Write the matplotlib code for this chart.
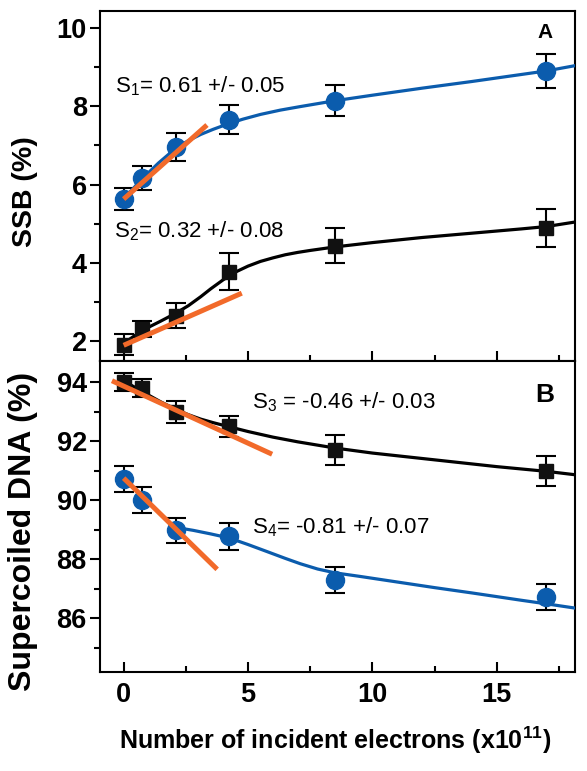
import matplotlib
matplotlib.use("Agg")
import matplotlib.pyplot as plt
from matplotlib.ticker import MultipleLocator

plt.rcParams["font.family"] = ["Liberation Sans", "DejaVu Sans"]
plt.rcParams["mathtext.fontset"] = "custom"
plt.rcParams["mathtext.rm"] = "Liberation Sans"
plt.rcParams["mathtext.it"] = "Liberation Sans:italic"
plt.rcParams["mathtext.bf"] = "Liberation Sans:bold"

BLUE = "#0b5cad"
ORANGE = "#f26a2a"

# incident electrons (x10^11)
electrons = [0.0, 0.75, 2.1, 4.25, 8.5, 17.0]

# panel A: SSB (%)
ssb_circ = [5.64, 6.17, 6.96, 7.65, 8.14, 8.9]
ssb_circ_err = [0.28, 0.31, 0.35, 0.37, 0.40, 0.44]
ssb_sq = [1.92, 2.32, 2.66, 3.78, 4.44, 4.89]
ssb_sq_err = [0.28, 0.21, 0.31, 0.48, 0.44, 0.49]

# panel B: supercoiled DNA (%)
sc_sq = [94.0, 93.8, 92.98, 92.5, 91.7, 90.99]
sc_sq_err = [0.31, 0.31, 0.37, 0.36, 0.52, 0.52]
sc_circ = [90.72, 90.01, 88.98, 88.78, 87.3, 86.73]
sc_circ_err = [0.45, 0.45, 0.43, 0.45, 0.44, 0.44]

# fitted curves
fit_a_circ_x = [0, 0.75, 1.4, 2.1, 2.6, 3.1, 3.6, 4.2, 4.8, 5.5, 6.3, 7.1, 8.5, 10, 12, 14, 16, 17, 18.2]
fit_a_circ_y = [5.64, 6.15, 6.55, 6.93, 7.12, 7.28, 7.41, 7.55, 7.67, 7.79, 7.9, 7.99, 8.14,
                8.28, 8.46, 8.63, 8.81, 8.9, 9.04]
fit_a_sq_x = [0, 0.5, 1.0, 1.5, 2.1, 2.6, 3.1, 3.5, 4.0, 4.5, 5.0, 5.5, 6.0, 6.5, 7.0, 7.5,
              8.5, 10, 12, 14, 16, 17, 18.2]
fit_a_sq_y = [1.95, 2.17, 2.36, 2.52, 2.72, 2.91, 3.14, 3.34, 3.57, 3.77, 3.92, 4.04, 4.13,
              4.21, 4.27, 4.32, 4.41, 4.52, 4.65, 4.76, 4.87, 4.93, 5.05]
fit_b_sq_x = [0, 0.75, 1.5, 2.1, 2.6, 3.1, 3.6, 4.2, 5.0, 6.0, 7.0, 8.5, 10, 12.5, 15, 17, 18.2]
fit_b_sq_y = [94.05, 93.68, 93.33, 93.08, 92.9, 92.75, 92.63, 92.5, 92.33, 92.14, 91.98, 91.77,
              91.6, 91.37, 91.14, 90.98, 90.86]
fit_b_circ_x = [2.1, 2.8, 3.5, 4.25, 5.0, 5.8, 6.5, 7.1, 7.8, 8.5, 9.5, 11, 12.5, 14, 16, 17, 18.2]
fit_b_circ_y = [89.08, 88.98, 88.86, 88.72, 88.5, 88.25, 88.03, 87.85, 87.67, 87.54, 87.42,
                87.23, 87.04, 86.86, 86.61, 86.49, 86.34]

# initial slope lines (orange), endpoints
slope1_x, slope1_y = [0.0, 3.35], [5.63, 7.52]
slope2_x, slope2_y = [0.0, 4.75], [1.9, 3.23]
slope3_x, slope3_y = [-0.47, 5.97], [94.05, 91.56]
slope4_x, slope4_y = [0.0, 3.76], [90.75, 87.66]

slope_labels = ["S$_1$= 0.61 +/- 0.05", "S$_2$= 0.32 +/- 0.08",
                "S$_3$ = -0.46 +/- 0.03", "S$_4$= -0.81 +/- 0.07"]

fig = plt.figure(figsize=(5.87, 7.71), dpi=100)
ax1 = fig.add_axes([0.1704, 0.5318, 0.8092, 0.4540])
ax2 = fig.add_axes([0.1704, 0.1284, 0.8092, 0.4034])


def draw_series(ax, y, err, color, marker, ms):
    ax.errorbar(electrons, y, yerr=err, fmt="none", ecolor="black",
                elinewidth=1.5, capsize=7.5, capthick=1.5, zorder=2)
    ax.plot(electrons, y, linestyle="none", marker=marker, ms=ms,
            color=color, zorder=4)


# panel A
ax1.plot(fit_a_circ_x, fit_a_circ_y, color=BLUE, lw=2.3, zorder=3)
ax1.plot(fit_a_sq_x, fit_a_sq_y, color="black", lw=2.3, zorder=3)
draw_series(ax1, ssb_circ, ssb_circ_err, BLUE, "o", 13)
draw_series(ax1, ssb_sq, ssb_sq_err, "#111111", "s", 10)
ax1.plot(slope1_x, slope1_y, color=ORANGE, lw=3.6, solid_capstyle="butt", zorder=5)
ax1.plot(slope2_x, slope2_y, color=ORANGE, lw=3.6, solid_capstyle="butt", zorder=5)
ax1.text(-0.33, 8.51, slope_labels[0], fontsize=16, va="center")
ax1.text(-0.4, 4.8, slope_labels[1], fontsize=16, va="center")
ax1.text(16.95, 9.87, "A", fontsize=15, fontweight="bold", ha="center", va="center")

# panel B
ax2.plot(fit_b_sq_x, fit_b_sq_y, color="black", lw=2.3, zorder=3)
ax2.plot(fit_b_circ_x, fit_b_circ_y, color=BLUE, lw=2.3, zorder=3)
draw_series(ax2, sc_sq, sc_sq_err, "#111111", "s", 10)
draw_series(ax2, sc_circ, sc_circ_err, BLUE, "o", 13)
ax2.plot(slope3_x, slope3_y, color=ORANGE, lw=3.6, solid_capstyle="butt", zorder=5)
ax2.plot(slope4_x, slope4_y, color=ORANGE, lw=3.6, solid_capstyle="butt", zorder=5)
ax2.text(5.16, 93.34, slope_labels[2], fontsize=16, va="center")
ax2.text(5.16, 89.1, slope_labels[3], fontsize=16, va="center")
ax2.text(16.95, 93.57, "B", fontsize=19, fontweight="bold", ha="center", va="center")

ax1.set_xlim(-0.95, 18.15)
ax2.set_xlim(-0.95, 18.15)
ax1.set_ylim(1.5, 10.43)
ax2.set_ylim(84.18, 94.72)

for ax in (ax1, ax2):
    for s in ax.spines.values():
        s.set_linewidth(1.5)
    ax.xaxis.set_major_locator(MultipleLocator(5))
    ax.xaxis.set_minor_locator(MultipleLocator(2.5))
    ax.yaxis.set_major_locator(MultipleLocator(2))
    ax.yaxis.set_minor_locator(MultipleLocator(1))
    ax.tick_params(axis="x", which="both", direction="in", top=False, width=1.5)
    ax.tick_params(axis="x", which="major", length=7.5)
    ax.tick_params(axis="x", which="minor", length=4.5)
    ax.tick_params(axis="y", which="both", direction="out", right=False, width=1.5, pad=2)
    ax.tick_params(axis="y", which="major", length=7.5)
    ax.tick_params(axis="y", which="minor", length=4.5)
    ax.tick_params(labelsize=19.5)
    for lab in ax.get_xticklabels() + ax.get_yticklabels():
        lab.set_fontweight("bold")

ax1.tick_params(axis="x", labelbottom=False)
ax2.tick_params(axis="x", pad=7)

fig.text(0.0426, 0.751, "SSB (%)", rotation=90, fontsize=20.5, fontweight="bold",
         ha="center", va="center")
fig.text(0.0400, 0.311, "Supercoiled DNA (%)", rotation=90, fontsize=23,
         fontweight="bold", ha="center", va="center")
fig.text(0.571, 0.040, r"Number of incident electrons (x10$^{\mathbf{11}}$)",
         fontsize=18, fontweight="bold", ha="center", va="center")

fig.savefig("out.png", dpi=100)
